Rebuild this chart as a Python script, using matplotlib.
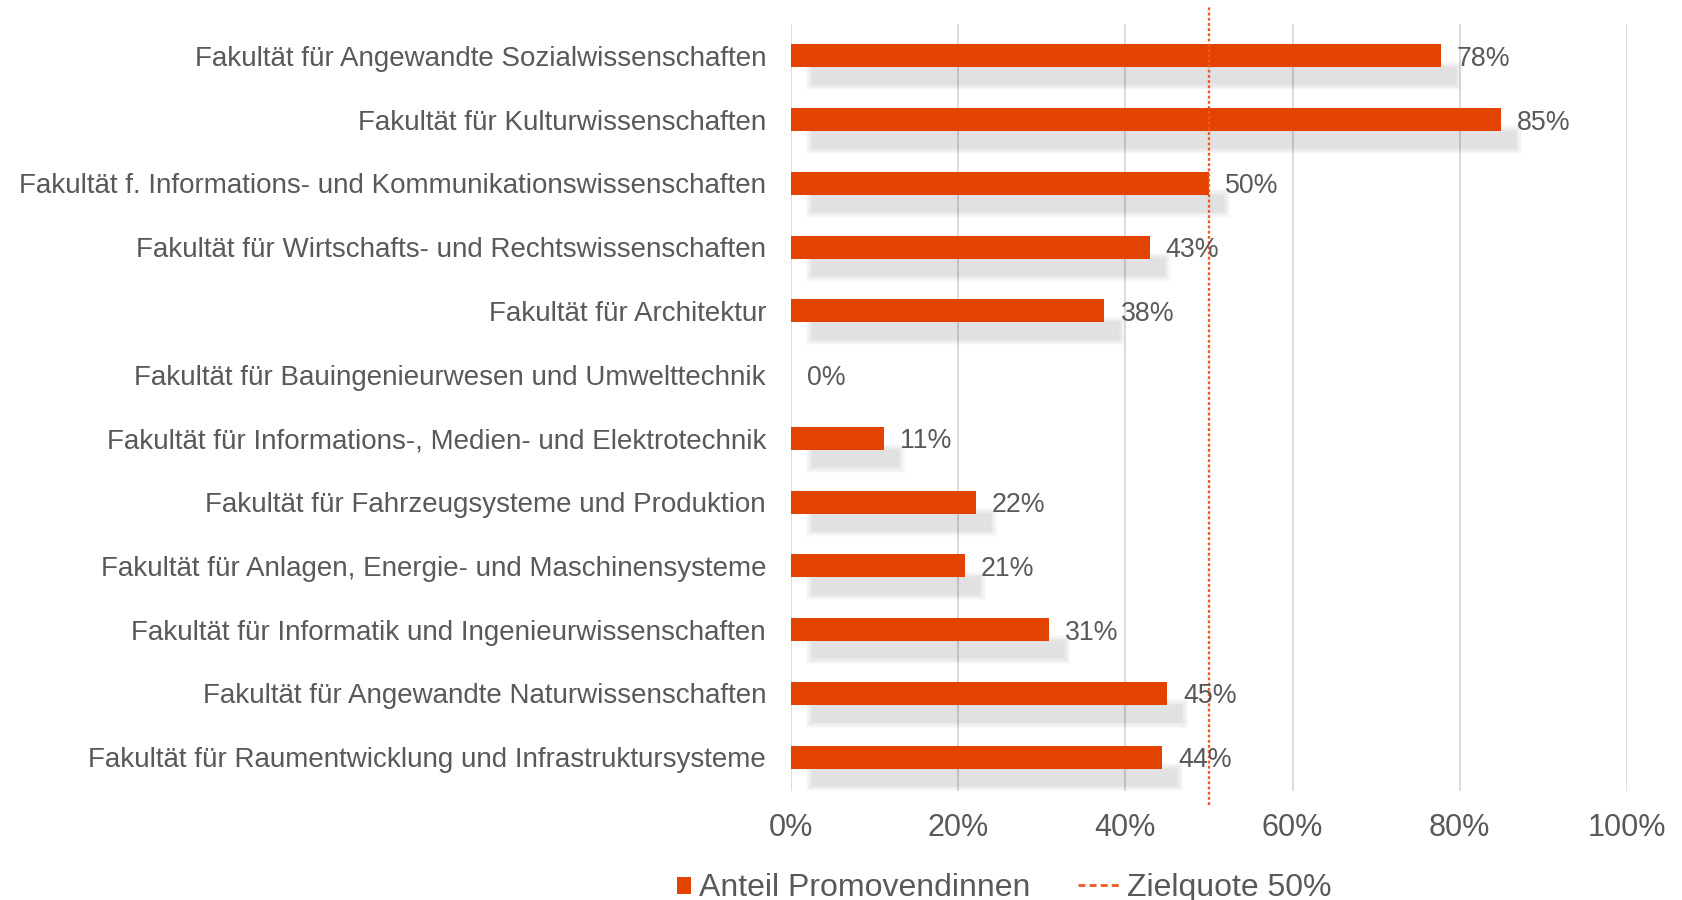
import matplotlib
matplotlib.use("Agg")
import matplotlib.pyplot as plt
from matplotlib.patches import Rectangle, Patch
from matplotlib.lines import Line2D
from matplotlib.legend_handler import HandlerPatch

plt.rcParams['font.family'] = ['Liberation Sans', 'DejaVu Sans']

categories = [
    "Fakultät für Angewandte Sozialwissenschaften",
    "Fakultät für Kulturwissenschaften",
    "Fakultät f. Informations- und Kommunikationswissenschaften",
    "Fakultät für Wirtschafts- und Rechtswissenschaften",
    "Fakultät für Architektur",
    "Fakultät für Bauingenieurwesen und Umwelttechnik",
    "Fakultät für Informations-, Medien- und Elektrotechnik",
    "Fakultät für Fahrzeugsysteme und Produktion",
    "Fakultät für Anlagen, Energie- und Maschinensysteme",
    "Fakultät für Informatik und Ingenieurwissenschaften",
    "Fakultät für Angewandte Naturwissenschaften",
    "Fakultät für Raumentwicklung und Infrastruktursysteme",
]
share = [77.7, 84.9, 50.0, 42.9, 37.5, 0.0, 11.1, 22.1, 20.8, 30.9, 45.0, 44.4]
target = 50
xticks = [0, 20, 40, 60, 80, 100]
xticklabels = ["0%", "20%", "40%", "60%", "80%", "100%"]
legend_labels = ["Anteil Promovendinnen", "Zielquote 50%"]

BAR = '#E24300'
TXT = '#595959'
GRID = '#D9D9D9'
LINE = '#EE5A24'

W, H, DPI = 16.83, 9.0, 100
fig = plt.figure(figsize=(W, H), dpi=DPI)
ax = fig.add_axes([0.4700, 0.1211, 0.4967, 0.8522])

ypos = list(range(len(categories)))
bar_h = 0.36
ax.set_xlim(0, 100)
ax.set_ylim(11.53, -0.5)

# pixel -> data conversion
pos = ax.get_position()
px_x = 100.0 / (pos.width * W * DPI)
px_y = 12.03 / (pos.height * H * DPI)

# blurred drop shadows
dx, dy = 18 * px_x, 20 * px_y
pads = [-3.0, -1.8, -0.6, 0.6, 1.8, 3.0]
a_layer = 1 - (1 - 0.11) ** (1 / len(pads))
for y, v in zip(ypos, share):
    if v <= 0:
        continue
    for p in pads:
        r = Rectangle((dx - p * px_x, y - bar_h / 2 + dy - p * px_y),
                      v + 2 * p * px_x, bar_h + 2 * p * px_y,
                      facecolor='black', edgecolor='none', alpha=a_layer,
                      zorder=2)
        ax.add_patch(r)

ax.barh(ypos, share, height=bar_h, color=BAR, edgecolor='none',
        linewidth=0, zorder=3)

for y, v in zip(ypos, share):
    ax.annotate(f"{round(v):.0f}%", xy=(v, y), xytext=(16, 0),
                textcoords='offset pixels', va='center_baseline', ha='left',
                fontsize=19.3, color=TXT, zorder=5)

ax.axvline(target, ymin=-0.018, ymax=1.022, clip_on=False, color=LINE,
           lw=1.7, linestyle=(0, (1.2, 1.0)), zorder=4)

ax.set_xticks(xticks)
ax.set_xticklabels(xticklabels)
ax.set_yticks(ypos)
ax.set_yticklabels(categories)
ax.tick_params(axis='y', length=0, pad=18, labelsize=20, labelcolor=TXT)
ax.tick_params(axis='x', length=0, pad=15.5, labelsize=22, labelcolor=TXT)
ax.grid(axis='x', color=GRID, lw=1.3, zorder=1)
ax.set_axisbelow(True)
for s in ax.spines.values():
    s.set_visible(False)


def make_square(legend, orig_handle, xdescent, ydescent, width, height, fontsize):
    w, h = 10.0, 12.2
    return Rectangle((width - w - xdescent, -ydescent + (height - h) / 2), w, h)


handles = [Patch(facecolor=BAR, edgecolor='none'),
           Line2D([], [], color=LINE, lw=2.0, linestyle=(0, (2.5, 1.5)))]
leg = fig.legend(handles, legend_labels, loc='center', ncol=2,
                 bbox_to_anchor=(0.5885, 0.013), frameon=False,
                 fontsize=23, handlelength=1.3, handletextpad=0.25,
                 columnspacing=1.5,
                 handler_map={Patch: HandlerPatch(patch_func=make_square)})
for t in leg.get_texts():
    t.set_color(TXT)

fig.savefig("out.png", dpi=DPI)
